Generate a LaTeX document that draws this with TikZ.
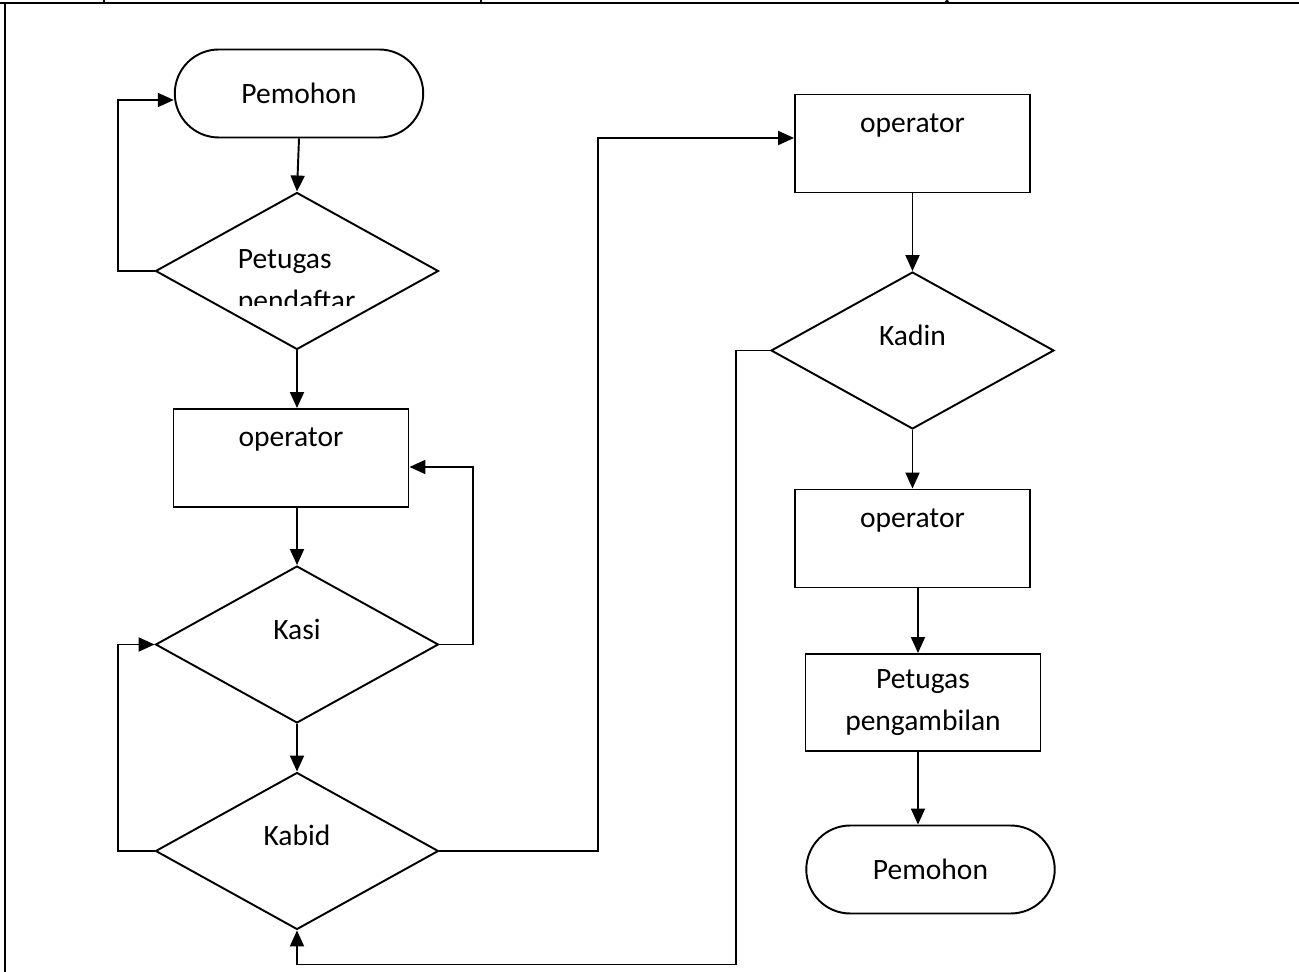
\documentclass[tikz,border=0pt]{standalone}
\usepackage{fontspec}
\setmainfont{Carlito}
\usepackage{tikz}
\usetikzlibrary{shapes,arrows.meta,positioning}

\begin{document}
\begin{tikzpicture}[
    x=0.02cm, y=-0.02cm,
    line width=1.1pt,
    every node/.style={
        font=\fontsize{16.8}{23.5}\selectfont
    },
    term/.style={
        draw, rounded rectangle,
        inner sep=0pt,
        minimum width=4.97cm, minimum height=1.76cm
    },
    decide/.style={
        draw, diamond,
        inner sep=0pt,
        minimum width=5.66cm, minimum height=3.14cm,
        text height=0.4cm, text depth=0.6cm
    },
    opbox/.style={
        draw, rectangle,
        inner sep=0pt,
        minimum width=4.7cm,
        text height=0.76cm, text depth=1.2cm
    },
    flow/.style={-{Triangle[length=0.32cm,width=0.28cm]}}
]
\useasboundingbox (0,0) rectangle (1299,972);
\draw[line width=1.4pt] (0,3) -- (1299,3);
\draw (5,3) -- (5,972);
\draw[line width=0.6pt] (104,0) -- (104,3) (481,0) -- (481,3);
\fill (947,2) circle (0.04cm);

\node[term] (pemohonA) at (299,93.5) {Pemohon};
\node[decide] (daftar) at (297,271) {};
\begin{scope}
\clip (160,200) rectangle (430,306);
\node[anchor=north west, inner sep=0pt, align=left] (daftarText) at (237,249) {Petugas\\pendaftar};
\end{scope}
\node[opbox] (opA) at (291,458) {operator};
\node[decide] (kasi) at (297,644.5) {Kasi};
\node[decide] (kabid) at (297,851) {Kabid};

\node[opbox] (opB) at (912.5,143.5) {operator};
\node[decide] (kadin) at (912.5,350.5) {Kadin};
\node[opbox] (opC) at (912.5,538.5) {operator};
\node[opbox, align=center, text height=, text depth=, minimum height=1.94cm] (ambil) at (923,702.5) {Petugas\\pengambilan};
\node[term] (pemohonB) at (930.5,869.5) {Pemohon};

\draw[flow] (pemohonA.south) -- (daftar.north);
\draw[flow] (daftar.west) -- ++(-37,0) |- ([yshift=-0.13cm]pemohonA.west);
\draw[flow] (daftar.south) -- (opA.north -| daftar.south);
\draw[flow] (opA.south -| kasi.north) -- (kasi.north);
\draw[flow] (kasi.east) -- ++(34,0) |- ([yshift=-0.18cm]opA.east);
\draw[flow] (kasi.south) -- (kabid.north);
\draw[flow] (kabid.west) -- ++(-37,0) |- (kasi.west);
\draw[flow] (kabid.east) -- ++(159,0) |- ([yshift=0.11cm]opB.west);
\draw[flow] (opB.south) -- (kadin.north);
\draw[flow] (kadin.west) -- ++(-34,0) -- ++(0,614) -| (kabid.south);
\draw[flow] (kadin.south) -- (opC.north);
\draw[flow] ([xshift=0.11cm]opC.south) -- ([xshift=0.11cm]opC.south |- ambil.north);
\draw[flow] (ambil.south -| opC.south) ++(0.11cm,0) -- ([xshift=0.11cm]opC.south |- pemohonB.north);
\end{tikzpicture}
\end{document}
